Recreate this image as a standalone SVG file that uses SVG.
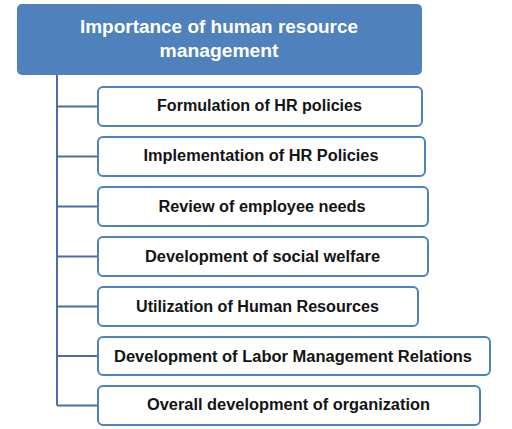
<svg xmlns="http://www.w3.org/2000/svg" width="512" height="429" viewBox="0 0 512 429">
<style>
.box{fill:#ffffff;stroke:#4f81bd;stroke-width:2}
.t{font-family:"Liberation Sans",Arial,sans-serif;font-weight:bold;font-size:16px;fill:#141414;text-anchor:middle}
.title{font-family:"Liberation Sans",Arial,sans-serif;font-weight:bold;font-size:18px;fill:#ffffff;text-anchor:middle}
.con{fill:none;stroke:#4a6ea8;stroke-width:2}
</style>
<rect width="512" height="429" fill="#ffffff"/>
<g id="connectors">
<path class="con" d="M57 75 V405.5"/>
<path class="con" d="M57 106.5 H98"/>
<path class="con" d="M57 156.5 H98"/>
<path class="con" d="M57 206.5 H98"/>
<path class="con" d="M57 256.5 H98"/>
<path class="con" d="M57 306.5 H98"/>
<path class="con" d="M57 356 H98"/>
<path class="con" d="M57 405.5 H98"/>
</g>
<g id="title">
<rect x="17" y="4" width="405" height="71" rx="5" fill="#4f81bd"/>
<text class="title" x="219" y="33" textLength="278" lengthAdjust="spacingAndGlyphs">Importance of human resource</text>
<text class="title" x="219" y="57" textLength="119" lengthAdjust="spacingAndGlyphs">management</text>
</g>
<g id="n1">
<rect class="box" x="98" y="87" width="324" height="39" rx="5"/>
<text class="t" x="259.5" y="111" textLength="205" lengthAdjust="spacingAndGlyphs">Formulation of HR policies</text>
</g>
<g id="n2">
<rect class="box" x="98" y="137" width="327" height="39" rx="5"/>
<text class="t" x="261" y="161" textLength="235" lengthAdjust="spacingAndGlyphs">Implementation of HR Policies</text>
</g>
<g id="n3">
<rect class="box" x="98" y="187" width="330" height="39" rx="5"/>
<text class="t" x="262" y="211.5" textLength="207" lengthAdjust="spacingAndGlyphs">Review of employee needs</text>
</g>
<g id="n4">
<rect class="box" x="98" y="237" width="330" height="39" rx="5"/>
<text class="t" x="262.5" y="261.5" textLength="235" lengthAdjust="spacingAndGlyphs">Development of social welfare</text>
</g>
<g id="n5">
<rect class="box" x="98" y="287" width="320" height="39" rx="5"/>
<text class="t" x="257.5" y="312" textLength="243" lengthAdjust="spacingAndGlyphs">Utilization of Human Resources</text>
</g>
<g id="n6">
<rect class="box" x="98" y="337" width="392" height="38" rx="5"/>
<text class="t" x="293" y="361.5" textLength="358" lengthAdjust="spacingAndGlyphs">Development of Labor Management Relations</text>
</g>
<g id="n7">
<rect class="box" x="98" y="386" width="382" height="39" rx="5"/>
<text class="t" x="288.5" y="409.5" textLength="283" lengthAdjust="spacingAndGlyphs">Overall development of organization</text>
</g>
</svg>
